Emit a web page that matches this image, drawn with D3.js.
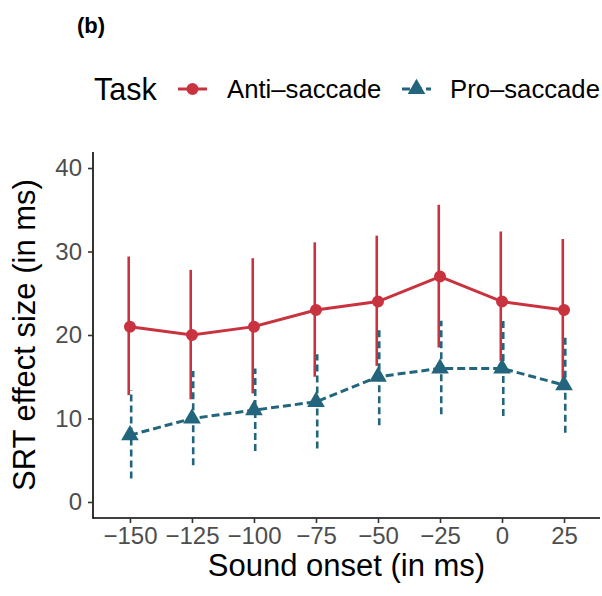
<!DOCTYPE html>
<html>
<head>
<meta charset="utf-8">
<script src="https://cdn.jsdelivr.net/npm/d3@7"></script>
<style>
  body { margin: 0; background: #fff; }
  text { font-family: "Liberation Sans", Arial, sans-serif; }
</style>
</head>
<body>
<svg width="602" height="596"></svg>
<script>
// sound onsets (x categories, ms)
const onsets = [-150, -125, -100, -75, -50, -25, 0, 25];
const tasks = ['Anti\u2013saccade', 'Pro\u2013saccade'];
// mean SRT effect + CI
const antiMean = [21, 20, 21, 23, 24, 27, 24, 23];
const antiLow  = [12.8, 12.3, 13.0, 15.0, 16.3, 18.5, 16.9, 14.6];
const antiHigh = [29.4, 27.8, 29.2, 31.1, 31.9, 35.6, 32.4, 31.5];
const proMean  = [8, 10, 11, 12, 15, 16, 16, 14];
const proLow   = [2.8, 4.4, 6.1, 6.4, 9.2, 10.5, 10.3, 8.3];
const proHigh  = [13.4, 15.7, 16.0, 17.7, 21.0, 21.7, 21.8, 19.9];
const yTicks = [0, 10, 20, 30, 40];

const colors = ['#C9333F', '#23657D'];
const dodge = [-0.5, 0.5]; // small sideways shift of the error bars

const series = [
  {name: tasks[0], mean: antiMean, lo: antiLow, hi: antiHigh, dash: null, shape: 'circle'},
  {name: tasks[1], mean: proMean, lo: proLow, hi: proHigh, dash: '8,4', shape: 'triangle'}
];

const panel = {left: 93, right: 600, top: 152, bottom: 518};

const x = d3.scaleLinear().domain([-164.9, 39.5]).range([panel.left, panel.right]);
const y = d3.scaleLinear().domain([-1.92, 41.92]).range([panel.bottom, panel.top]);

const svg = d3.select('svg');

const symFor = s => s.shape === 'circle' ? d3.symbol(d3.symbolCircle, 113) : d3.symbol(d3.symbolTriangle, 135);

// (b) panel tag
svg.append('text').attr('x', 77).attr('y', 33)
  .attr('font-size', 22).attr('font-weight', 'bold').text('(b)');

// legend
const legend = svg.append('g');
legend.append('text').attr('x', 94).attr('y', 100).attr('font-size', 30.5).text('Task');
const keyPos = [{x0: 178, lx: 227}, {x0: 402, lx: 450}];
series.forEach((s, i) => {
  const k = keyPos[i];
  legend.append('line')
    .attr('x1', k.x0).attr('x2', k.x0 + 29).attr('y1', 89).attr('y2', 89)
    .attr('stroke', colors[i]).attr('stroke-width', 3)
    .attr('stroke-dasharray', s.dash);
  legend.append('path')
    .attr('transform', `translate(${k.x0 + 14.5},89)`)
    .attr('d', symFor(s)())
    .attr('fill', colors[i]);
  legend.append('text').attr('x', k.lx).attr('y', 98).attr('font-size', 25.7).text(s.name);
});

// axes
const yAxis = svg.append('g').attr('transform', `translate(${panel.left},0)`)
  .call(d3.axisLeft(y).tickValues(yTicks).tickSize(5).tickPadding(6));
const xAxis = svg.append('g').attr('transform', `translate(0,${panel.bottom})`)
  .call(d3.axisBottom(x).tickValues(onsets).tickSize(5).tickPadding(4));

[xAxis, yAxis].forEach(a => {
  a.select('.domain').attr('stroke', '#000').attr('stroke-width', 1.6);
  a.selectAll('.tick line').attr('stroke', '#333').attr('stroke-width', 1.6);
  a.selectAll('.tick text').attr('fill', '#4D4D4D').attr('font-size', 24)
    .attr('font-family', '"Liberation Sans", Arial, sans-serif');
});
// re-draw domains to span full panel
xAxis.select('.domain').attr('d', `M${panel.left},0H${panel.right}`);
yAxis.select('.domain').attr('d', `M0,${panel.top}V${panel.bottom + 0.8}`);

svg.append('text').attr('x', (panel.left + panel.right) / 2).attr('y', 576)
  .attr('text-anchor', 'middle').attr('font-size', 31).text('Sound onset (in ms)');
svg.append('text').attr('transform', `translate(35,${(panel.top + panel.bottom) / 2}) rotate(-90)`)
  .attr('text-anchor', 'middle').attr('font-size', 31).text('SRT effect size (in ms)');

// error bars
series.forEach((s, i) => {
  svg.append('g').selectAll('line')
    .data(onsets)
    .join('line')
    .attr('x1', (d) => x(d + dodge[i])).attr('x2', (d) => x(d + dodge[i]))
    .attr('y1', (d, j) => y(s.lo[j])).attr('y2', (d, j) => y(s.hi[j]))
    .attr('stroke', colors[i]).attr('stroke-width', 2.6)
    .attr('stroke-dasharray', s.dash ? '7,4' : null);
});

// lines
const line = d3.line().x(d => x(d[0])).y(d => y(d[1]));
series.forEach((s, i) => {
  svg.append('path')
    .datum(onsets.map((o, j) => [o, s.mean[j]]))
    .attr('d', line)
    .attr('fill', 'none')
    .attr('stroke', colors[i]).attr('stroke-width', 3)
    .attr('stroke-dasharray', s.dash);
});

// points
series.forEach((s, i) => {
  const sym = symFor(s);
  svg.append('g').selectAll('path')
    .data(onsets)
    .join('path')
    .attr('transform', (d, j) => `translate(${x(d)},${y(s.mean[j])})`)
    .attr('d', sym())
    .attr('fill', colors[i]);
});
</script>
</body>
</html>
